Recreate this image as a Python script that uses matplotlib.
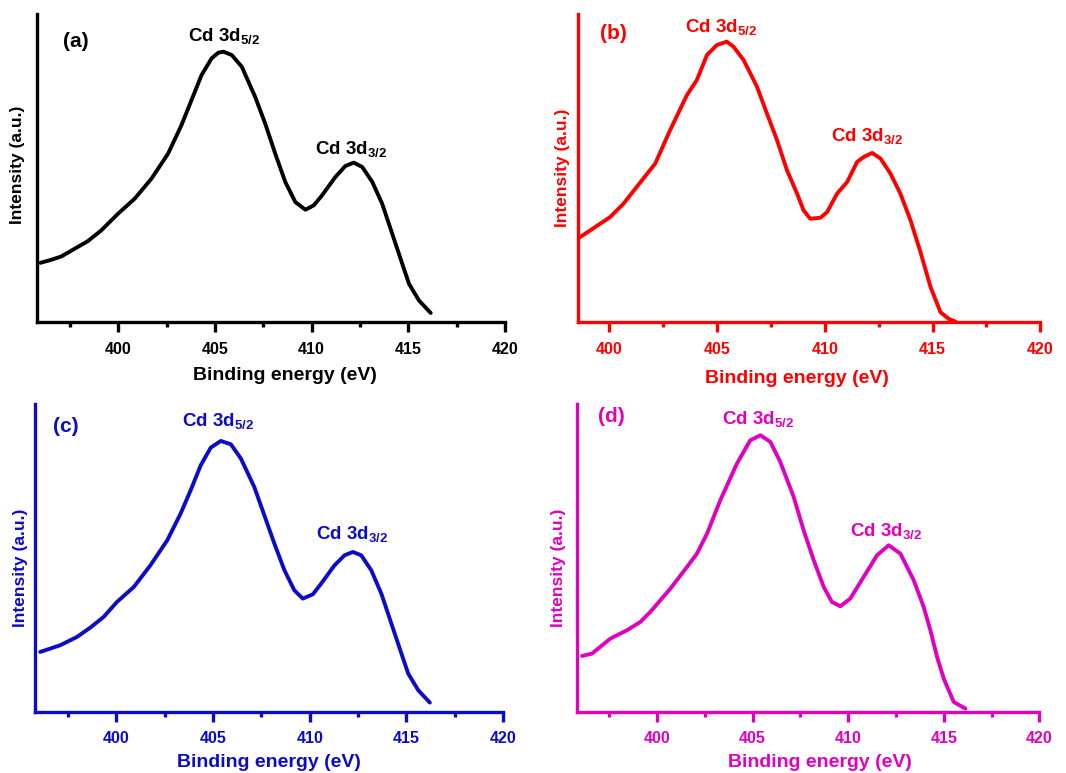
import numpy as np
import matplotlib
matplotlib.use('Agg')
import matplotlib.pyplot as plt

plt.rcParams['font.family'] = ['Liberation Sans', 'DejaVu Sans']
plt.rcParams['mathtext.fontset'] = 'custom'
plt.rcParams['mathtext.rm'] = 'Liberation Sans'
plt.rcParams['mathtext.bf'] = 'Liberation Sans:bold'

# ==========================================
# data (binding energy in eV, intensity in a.u.)
# ==========================================
be_a = [395.97, 396.53, 397.05, 397.74, 398.43, 399.12, 399.99, 400.85, 401.72, 402.58, 403.27,
        403.79, 404.31, 404.83, 405.18, 405.44, 405.87, 406.39, 407.08, 407.6, 408.12, 408.64,
        409.16, 409.68, 410.11, 410.54, 411.23, 411.75, 412.18, 412.62, 413.14, 413.65, 414.17,
        414.69, 415.04, 415.56, 416.16]
int_a = [178, 187, 197, 220, 243, 275, 325, 370, 430, 505, 590,
         665, 740, 790, 807, 810, 800, 765, 675, 595, 505, 420,
         360, 337, 350, 380, 435, 468, 478, 465, 420, 355, 265,
         175, 115, 65, 28]

be_b = [398.54, 399.12, 400.05, 400.67, 401.28, 402.14, 402.83, 403.61, 404.07, 404.54, 405.0,
        405.46, 405.77, 406.24, 406.86, 407.32, 407.79, 408.25, 408.72, 409.02, 409.33, 409.8,
        410.11, 410.57, 411.04, 411.5, 411.81, 412.2, 412.59, 413.05, 413.51, 413.98, 414.44,
        414.91, 415.37, 415.76, 416.07]
int_b = [250, 275, 315, 355, 405, 475, 575, 680, 725, 800, 830,
         840, 825, 785, 705, 625, 545, 455, 385, 335, 310, 313,
         330, 385, 420, 480, 495, 507, 490, 445, 385, 305, 210,
         105, 30, 10, 2]

be_c = [396.06, 397.09, 397.96, 398.65, 399.34, 400.03, 400.9, 401.76, 402.63, 403.32, 403.84,
        404.36, 404.88, 405.4, 405.92, 406.44, 407.13, 407.65, 408.17, 408.69, 409.2, 409.64,
        410.16, 410.59, 411.28, 411.8, 412.23, 412.66, 413.18, 413.7, 414.22, 414.74, 415.09,
        415.61, 416.21]
int_c = [180, 200, 225, 253, 285, 330, 375, 440, 515, 595, 665,
         740, 793, 813, 803, 760, 675, 590, 505, 425, 365, 340,
         353, 385, 440, 470, 480, 470, 425, 355, 265, 175, 115,
         65, 28]

be_d = [396.08, 396.6, 397.56, 398.43, 399.13, 399.65, 400.7, 401.57, 402.09, 402.62, 403.31,
        404.18, 404.88, 405.41, 405.93, 406.45, 407.15, 407.67, 408.2, 408.72, 409.15, 409.59,
        410.11, 410.81, 411.51, 412.12, 412.73, 413.43, 413.95, 414.3, 414.65, 415.0, 415.52,
        416.13]
int_d = [168, 175, 220, 245, 270, 300, 370, 435, 475, 535, 635,
         745, 815, 830, 810, 750, 645, 545, 455, 375, 330, 317,
         340, 405, 470, 500, 475, 395, 315, 245, 165, 100, 30,
         10]

panels = [
    ('(a)', be_a, int_a, 'black', 395.8, (397.8, 840), (403.6, 855), (410.2, 515)),
    ('(b)', be_b, int_b, '#ff0000', 398.55, (400.2, 865), (403.5, 880), (410.3, 555)),
    ('(c)', be_c, int_c, '#0c0cc8', 395.8, (397.4, 855), (403.4, 870), (410.3, 530)),
    ('(d)', be_d, int_d, '#e000c0', 395.8, (397.6, 885), (403.4, 875), (410.1, 540)),
]

# axes boxes in figure fractions [left, bottom, width, height]
boxes = [
    [0.0347, 0.583, 0.439, 0.399],
    [0.542, 0.583, 0.434, 0.399],
    [0.033, 0.079, 0.439, 0.398],
    [0.541, 0.079, 0.434, 0.398],
]
# where the axis titles sit (axes fractions), as in the original layout
xlabel_pos = [(0.53, -0.146), (0.474, -0.156), (0.5, -0.136), (0.526, -0.136)]
ylabel_pos = [(-0.026, 0.51), (-0.017, 0.5), (-0.015, 0.468), (-0.024, 0.468)]

fig = plt.figure(figsize=(10.66, 7.73), dpi=100)

for i, ((tag, be, inten, col, xmin, tag_pos, p1_pos, p2_pos), box) in enumerate(zip(panels, boxes)):
    ax = fig.add_axes(box)
    ax.plot(be, inten, color=col, linewidth=2.8, solid_joinstyle='round', solid_capstyle='round')

    for side in ['top', 'right']:
        ax.spines[side].set_visible(False)
    for side in ['left', 'bottom']:
        ax.spines[side].set_color(col)
        ax.spines[side].set_linewidth(2.4)

    ax.set_xticks([400, 405, 410, 415, 420])
    ax.set_xticks(np.arange(397.5, 420, 5), minor=True)
    ax.set_yticks([])
    # limits after the ticks, otherwise the minor ticks widen the view
    ax.set_xlim(xmin, 420)
    ax.set_ylim(0, 923)
    ax.tick_params(axis='x', which='major', direction='out', length=7, width=2.4,
                   color=col, labelcolor=col, labelsize=11.5, pad=7)
    ax.tick_params(axis='x', which='minor', direction='out', length=3.5, width=2.4, color=col)
    for lab in ax.get_xticklabels():
        lab.set_fontweight('bold')

    ax.set_xlabel('Binding energy (eV)', color=col, fontsize=14, fontweight='bold')
    ax.set_ylabel('Intensity (a.u.)', color=col, fontsize=12.5, fontweight='bold')
    ax.xaxis.set_label_coords(*xlabel_pos[i])
    ax.yaxis.set_label_coords(*ylabel_pos[i])

    ax.text(tag_pos[0], tag_pos[1], tag, color=col, fontsize=15, fontweight='bold',
            ha='center', va='center')
    ax.text(p1_pos[0], p1_pos[1], r'Cd 3d$_{\mathbf{5/2}}$', color=col, fontsize=13.5,
            fontweight='bold', ha='left', va='center')
    ax.text(p2_pos[0], p2_pos[1], r'Cd 3d$_{\mathbf{3/2}}$', color=col, fontsize=13.5,
            fontweight='bold', ha='left', va='center')

plt.savefig('out.png', dpi=100)
